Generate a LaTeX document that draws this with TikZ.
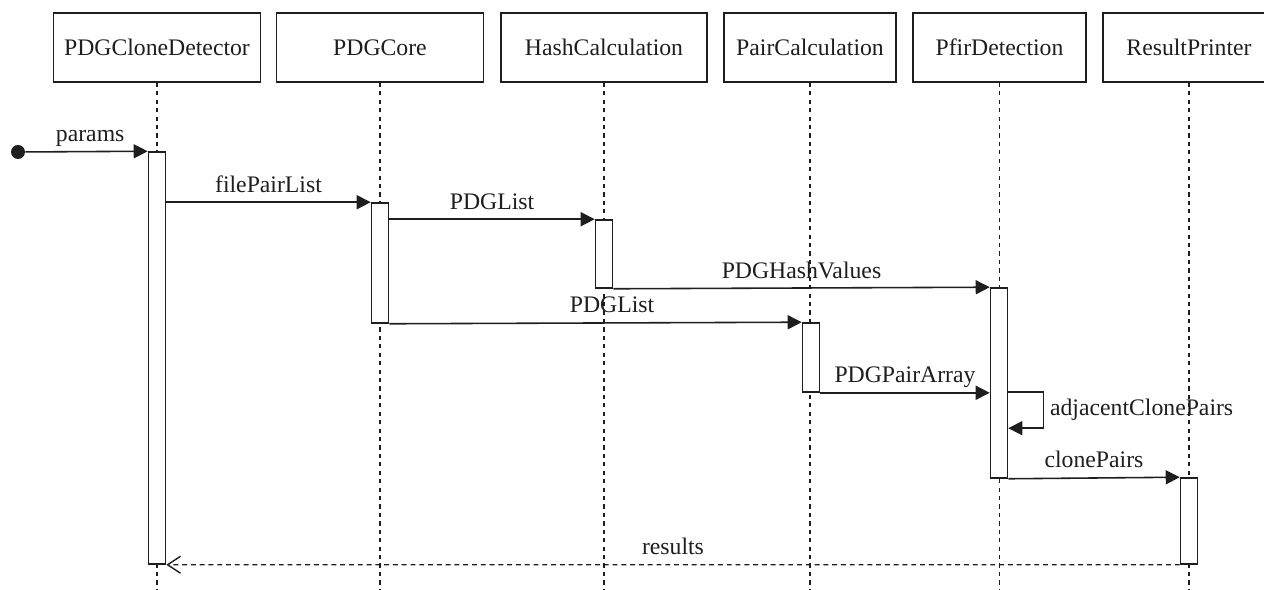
\documentclass[tikz,border=0pt]{standalone}
\usepackage{fontspec}
\setmainfont{Liberation Serif}
\definecolor{umlgray}{RGB}{30, 30, 30}
\usetikzlibrary{arrows.meta, positioning, calc}

\begin{document}
\begin{tikzpicture}[x=0.02cm, y=-0.02cm,
    font=\fontsize{13.5}{16}\selectfont,
    every node/.style={text=umlgray},
    headbox/.style={draw=umlgray, line width=0.9pt, minimum height=1.38cm, inner sep=0pt},
    actbar/.style={draw=umlgray, fill=white, line width=0.9pt, minimum width=0.34cm, inner sep=0pt},
    lifeline/.style={draw=umlgray, line width=0.8pt, dash pattern=on 2.4pt off 2.4pt},
    msgarrow/.style={draw=umlgray, line width=0.9pt, -{Triangle[length=0.28cm, width=0.28cm]}},
    replyarrow/.style={draw=umlgray, line width=0.8pt, dash pattern=on 2.8pt off 2.2pt, -{Straight Barb[length=0.26cm, width=0.34cm]}},
    msglabel/.style={anchor=base, yshift=0.2cm, inner sep=0pt}]

  \useasboundingbox (0,0) rectangle (1264,590);

  % Object heads
  \node[headbox, minimum width=4.14cm] (cloneDetector) at (157, 47.5) {PDGCloneDetector};
  \node[headbox, minimum width=4.14cm] (pdgCore) at (380, 47.5) {PDGCore};
  \node[headbox, minimum width=4.12cm] (hashCalc) at (604, 47.5) {HashCalculation};
  \node[headbox, minimum width=3.44cm] (pairCalc) at (810, 47.5) {PairCalculation};
  \node[headbox, minimum width=3.46cm] (pfirDetect) at (999.5, 47.5) {PfirDetection};
  \node[headbox, minimum width=3.44cm] (resultPrinter) at (1189, 47.5) {ResultPrinter};

  % Lifelines
  \foreach \obj in {cloneDetector, pdgCore, hashCalc, pairCalc, pfirDetect, resultPrinter}
    \draw[lifeline] (\obj.south) -- (\obj.south |- 0,590);

  % Activation bars
  \node[actbar, minimum height=8.24cm] (actClone) at (157, 358) {};
  \node[actbar, minimum height=2.4cm] (actCore) at (380, 263) {};
  \node[actbar, minimum height=1.36cm] (actHash) at (604, 254) {};
  \node[actbar, minimum height=1.38cm] (actPair) at (811, 357.5) {};
  \node[actbar, minimum height=3.8cm] (actPfir) at (999, 383) {};
  \node[actbar, minimum height=1.72cm] (actResult) at (1189, 521) {};

  % Start point
  \node[circle, fill=umlgray, minimum size=0.28cm, inner sep=0pt] (start) at (18, 152) {};

  % Messages
  \draw[msgarrow] (start) -- (actClone.north west) node[msglabel, pos=0.53] {params};
  \draw[msgarrow] (actClone.east |- actCore.north) -- (actCore.north west) node[msglabel, midway] {filePairList};
  \draw[msgarrow] (actCore.east |- actHash.north) -- (actHash.north west) node[msglabel, midway] {PDGList};
  \draw[msgarrow] (actHash.south east) -- (actPfir.north west) node[msglabel, midway] {PDGHashValues};
  \draw[msgarrow] (actCore.south east) -- (actPair.north west) node[msglabel, pos=0.54] {PDGList};
  \draw[msgarrow] (actPair.south east) -- (actPfir.west |- actPair.south) node[msglabel, midway] {PDGPairArray};
  \draw[msgarrow] ([yshift=-2.1cm]actPfir.north east) -- ++(0.7cm,0) |- ([yshift=-2.82cm]actPfir.north east)
    node[right, pos=0.25, inner sep=0.12cm] {adjacentClonePairs};
  \draw[msgarrow] (actPfir.south east) -- (actResult.north west) node[msglabel, midway] {clonePairs};

  % Return
  \draw[replyarrow] (actResult.south west) -- (actClone.south east) node[msglabel, midway] {results};
\end{tikzpicture}
\end{document}
